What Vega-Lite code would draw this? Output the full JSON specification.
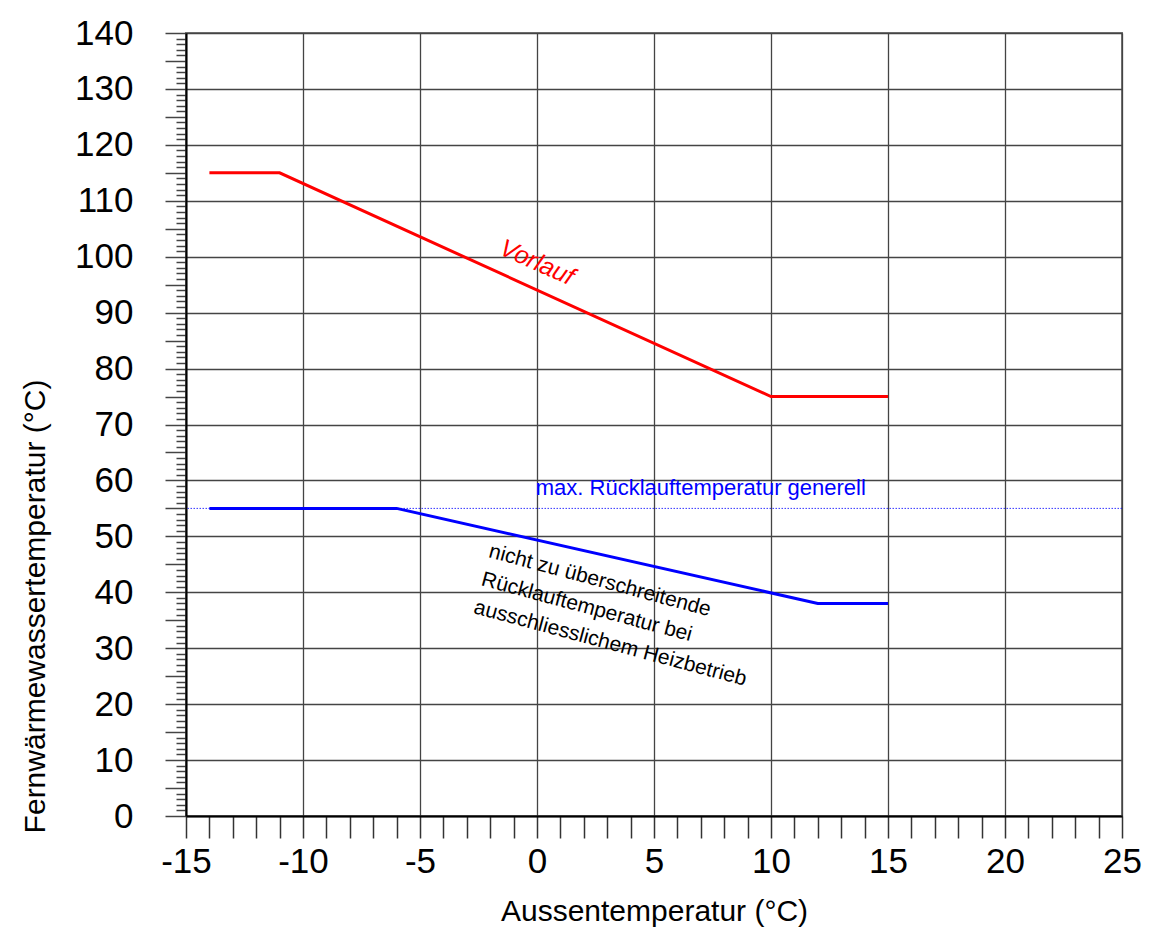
{
  "$schema": "https://vega.github.io/schema/vega-lite/v6.json",
  "width": 936,
  "height": 783,
  "autosize": {"type": "none"},
  "padding": {"left": 186, "top": 33, "right": 28, "bottom": 126},
  "background": "white",
  "config": {
    "font": "Liberation Sans Narrow, Liberation Sans, Arial, sans-serif",
    "view": {"stroke": "#777777", "strokeWidth": 2}
  },
  "datasets": {
    "curves": [
      {"t_aussen": -14, "t_wasser": 115, "series": "Vorlauf"},
      {"t_aussen": -11, "t_wasser": 115, "series": "Vorlauf"},
      {"t_aussen": 10, "t_wasser": 75, "series": "Vorlauf"},
      {"t_aussen": 15, "t_wasser": 75, "series": "Vorlauf"},
      {"t_aussen": -14, "t_wasser": 55, "series": "Rücklauf"},
      {"t_aussen": -6, "t_wasser": 55, "series": "Rücklauf"},
      {"t_aussen": 12, "t_wasser": 38, "series": "Rücklauf"},
      {"t_aussen": 15, "t_wasser": 38, "series": "Rücklauf"}
    ]
  },
  "layer": [
    {
      "data": {"values": [{"limit": 55}]},
      "mark": {"type": "rule", "color": "#0000ff", "strokeWidth": 1, "strokeDash": [1.5, 1.5], "opacity": 0.8},
      "encoding": {"y": {"field": "limit", "type": "quantitative"}}
    },
    {
      "data": {"name": "curves"},
      "mark": {"type": "line", "strokeWidth": 3},
      "encoding": {
        "x": {
          "field": "t_aussen",
          "type": "quantitative",
          "scale": {"domain": [-15, 25], "nice": false, "zero": false},
          "axis": {
            "title": "Aussentemperatur (°C)",
            "values": [-15,-14,-13,-12,-11,-10,-9,-8,-7,-6,-5,-4,-3,-2,-1,0,1,2,3,4,5,6,7,8,9,10,11,12,13,14,15,16,17,18,19,20,21,22,23,24,25],
            "tickCount": 100,
            "labelExpr": "datum.value % 5 === 0 ? '' + datum.value : ''",
            "labelOverlap": false,
            "labelFlush": false,
            "labelBound": false,
            "labelFontSize": 35,
            "labelColor": "black",
            "labelPadding": 6,
            "tickSize": 22,
            "tickColor": "#333333",
            "tickWidth": 1.5,
            "domainColor": "black",
            "domainWidth": 2,
            "grid": true,
            "gridColor": "#444444",
            "gridWidth": 1.3,
            "gridOpacity": {"condition": {"test": "datum.value % 5 === 0", "value": 1}, "value": 0},
            "titleFontSize": 30,
            "titleFontWeight": "normal",
            "titleColor": "black",
            "titlePadding": 17
          }
        },
        "y": {
          "field": "t_wasser",
          "type": "quantitative",
          "scale": {"domain": [0, 140], "nice": false},
          "axis": {
            "title": "Fernwärmewassertemperatur (°C)",
            "values": [0,1,2,3,4,5,6,7,8,9,10,11,12,13,14,15,16,17,18,19,20,21,22,23,24,25,26,27,28,29,30,31,32,33,34,35,36,37,38,39,40,41,42,43,44,45,46,47,48,49,50,51,52,53,54,55,56,57,58,59,60,61,62,63,64,65,66,67,68,69,70,71,72,73,74,75,76,77,78,79,80,81,82,83,84,85,86,87,88,89,90,91,92,93,94,95,96,97,98,99,100,101,102,103,104,105,106,107,108,109,110,111,112,113,114,115,116,117,118,119,120,121,122,123,124,125,126,127,128,129,130,131,132,133,134,135,136,137,138,139,140],
            "tickCount": 300,
            "labelExpr": "datum.value % 10 === 0 ? '' + datum.value : ''",
            "labelOverlap": false,
            "labelFlush": false,
            "labelBound": false,
            "labelFontSize": 35,
            "labelColor": "black",
            "labelPadding": 32,
            "tickSize": {"condition": {"test": "datum.value % 5 === 0", "value": 21}, "value": 10},
            "tickColor": "#444444",
            "tickWidth": 1.5,
            "domainColor": "black",
            "domainWidth": 2,
            "grid": true,
            "gridColor": "#444444",
            "gridWidth": 1.3,
            "gridOpacity": {"condition": {"test": "datum.value % 10 === 0", "value": 1}, "value": 0},
            "titleFontSize": 30,
            "titleFontWeight": "normal",
            "titleColor": "black",
            "titleAngle": -90,
            "titleX": -151,
            "titleY": 573,
            "titleAlign": "center",
            "titleBaseline": "middle"
          }
        },
        "color": {
          "field": "series",
          "type": "nominal",
          "scale": {"domain": ["Vorlauf", "Rücklauf"], "range": ["#ff0000", "#0000ff"]},
          "legend": null
        }
      }
    },
    {
      "data": {"values": [{"x": 0, "y": 99, "label": "Vorlauf"}]},
      "mark": {"type": "text", "color": "#ff0000", "fontSize": 25, "fontStyle": "italic", "angle": 24, "align": "center", "baseline": "middle"},
      "encoding": {
        "x": {"field": "x", "type": "quantitative"},
        "y": {"field": "y", "type": "quantitative"},
        "text": {"field": "label"}
      }
    },
    {
      "data": {"values": [{"x": 7, "y": 58.6, "label": "max. Rücklauftemperatur generell"}]},
      "mark": {"type": "text", "color": "#0000ff", "fontSize": 22, "align": "center", "baseline": "middle"},
      "encoding": {
        "x": {"field": "x", "type": "quantitative"},
        "y": {"field": "y", "type": "quantitative"},
        "text": {"field": "label"}
      }
    },
    {
      "data": {"values": [{"x": -2.1, "y": 46.3, "label": "nicht zu überschreitende\nRücklauftemperatur bei\nausschliesslichem Heizbetrieb"}]},
      "mark": {"type": "text", "color": "black", "fontSize": 21, "angle": 15, "align": "left", "baseline": "alphabetic", "lineBreak": "\n", "lineHeight": 29},
      "encoding": {
        "x": {"field": "x", "type": "quantitative"},
        "y": {"field": "y", "type": "quantitative"},
        "text": {"field": "label"}
      }
    }
  ]
}
